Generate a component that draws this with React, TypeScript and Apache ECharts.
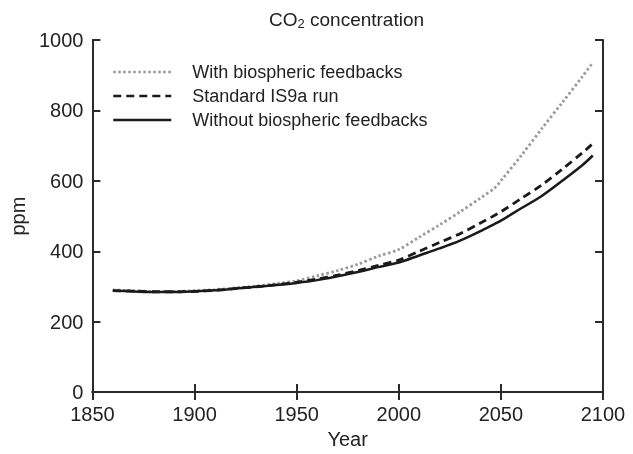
import React, { useEffect, useRef } from "react";
import * as echarts from "echarts";

const years = [1860, 1870, 1880, 1890, 1900, 1910, 1920, 1930, 1940, 1950, 1960, 1970, 1980, 1990, 2000, 2010, 2020, 2030, 2040, 2047, 2050, 2060, 2070, 2080, 2090, 2095];
const withFeedbacks = [290, 288, 286, 286, 288, 291, 296, 301, 308, 316, 330, 345, 363, 386, 405, 440, 475, 512, 551, 580, 600, 672, 748, 822, 897, 936];
const standardRun = [288, 287, 285, 285, 286, 289, 294, 299, 305, 312, 321, 332, 345, 360, 375, 400, 425, 450, 480, 502, 512, 550, 588, 633, 680, 706];
const withoutFeedbacks = [288, 286, 284, 284, 286, 289, 294, 299, 304, 310, 318, 329, 341, 355, 368, 388, 408, 430, 457, 478, 487, 522, 557, 600, 645, 672];
const seriesNames = ["With biospheric feedbacks", "Standard IS9a run", "Without biospheric feedbacks"];
const xTicks = [1850, 1900, 1950, 2000, 2050, 2100];
const yTicks = [0, 200, 400, 600, 800, 1000];

const FONT = "Liberation Sans, Arial, Helvetica, sans-serif";
const AX = "#2b2b2b";
const TXT = "#222";

export default function App() {
  const ref = useRef<HTMLDivElement>(null);
  useEffect(() => {
    if (!ref.current) return;
    const chart = echarts.init(ref.current, undefined, { renderer: "svg" });
    const pair = (vals: number[]) => years.map((y, i) => [y, vals[i]]);
    const axisCommon = {
      type: "value" as const,
      axisLine: { show: true, lineStyle: { color: AX, width: 2 } },
      axisTick: { show: true, inside: true, length: 8, lineStyle: { color: AX, width: 2 } },
      splitLine: { show: false },
    };
    chart.setOption({
      animation: false,
      textStyle: { fontFamily: FONT },
      title: {
        text: "CO{sub|2} concentration",
        left: 264,
        top: 3,
        textStyle: {
          fontFamily: FONT,
          fontSize: 19,
          fontWeight: "normal",
          color: TXT,
          rich: {
            sub: { fontSize: 13, verticalAlign: "bottom", padding: [9, 0, 0, 0], fontFamily: FONT, color: TXT },
          },
        },
      },
      legend: {
        orient: "vertical",
        left: 112,
        top: 63,
        itemWidth: 58,
        itemHeight: 14,
        itemGap: 6,
        padding: 0,
        itemStyle: { opacity: 0, borderWidth: 0 },
        lineStyle: { width: 2.6 },
        textStyle: { fontFamily: FONT, fontSize: 18, color: TXT, padding: [0, 0, 0, 16] },
        data: seriesNames,
      },
      grid: { left: 90, right: 30, top: 40, bottom: 58 },
      xAxis: [
        {
          ...axisCommon,
          min: xTicks[0],
          max: xTicks[xTicks.length - 1],
          interval: 50,
          position: "bottom",
          name: "Year",
          nameLocation: "middle",
          nameGap: 34,
          nameTextStyle: { fontFamily: FONT, fontSize: 20, color: TXT },
          axisLabel: { fontFamily: FONT, fontSize: 20, color: TXT, margin: 12, formatter: (v: number) => String(v) },
        },
        {
          ...axisCommon,
          min: xTicks[0],
          max: xTicks[xTicks.length - 1],
          interval: 50,
          position: "top",
          axisLabel: { show: false },
        },
      ],
      yAxis: [
        {
          ...axisCommon,
          min: yTicks[0],
          max: yTicks[yTicks.length - 1],
          interval: 200,
          position: "left",
          name: "ppm",
          nameLocation: "middle",
          nameGap: 62,
          nameRotate: 90,
          nameTextStyle: { fontFamily: FONT, fontSize: 20, color: TXT },
          axisLabel: { fontFamily: FONT, fontSize: 20, color: TXT, margin: 9, formatter: (v: number) => String(v) },
        },
        {
          ...axisCommon,
          min: yTicks[0],
          max: yTicks[yTicks.length - 1],
          interval: 200,
          position: "right",
          axisLabel: { show: false },
        },
      ],
      series: [
        {
          name: seriesNames[0],
          type: "line",
          data: pair(withFeedbacks),
          smooth: 0.3,
          symbol: "none",
          lineStyle: { color: "#9a9a9a", width: 2.8, type: [2.5, 2.5], cap: "butt" },
          itemStyle: { color: "#9a9a9a" },
        },
        {
          name: seriesNames[1],
          type: "line",
          data: pair(standardRun),
          smooth: 0.3,
          symbol: "none",
          lineStyle: { color: "#1a1a1a", width: 2.8, type: [8, 5], cap: "butt" },
          itemStyle: { color: "#1a1a1a" },
        },
        {
          name: seriesNames[2],
          type: "line",
          data: pair(withoutFeedbacks),
          smooth: 0.3,
          symbol: "none",
          lineStyle: { color: "#1a1a1a", width: 2.5, type: "solid" },
          itemStyle: { color: "#1a1a1a" },
        },
      ],
    });
    return () => chart.dispose();
  }, []);
  return <div ref={ref} style={{ position: "fixed", left: 0, top: 0, width: 633, height: 454 }} />;
}
